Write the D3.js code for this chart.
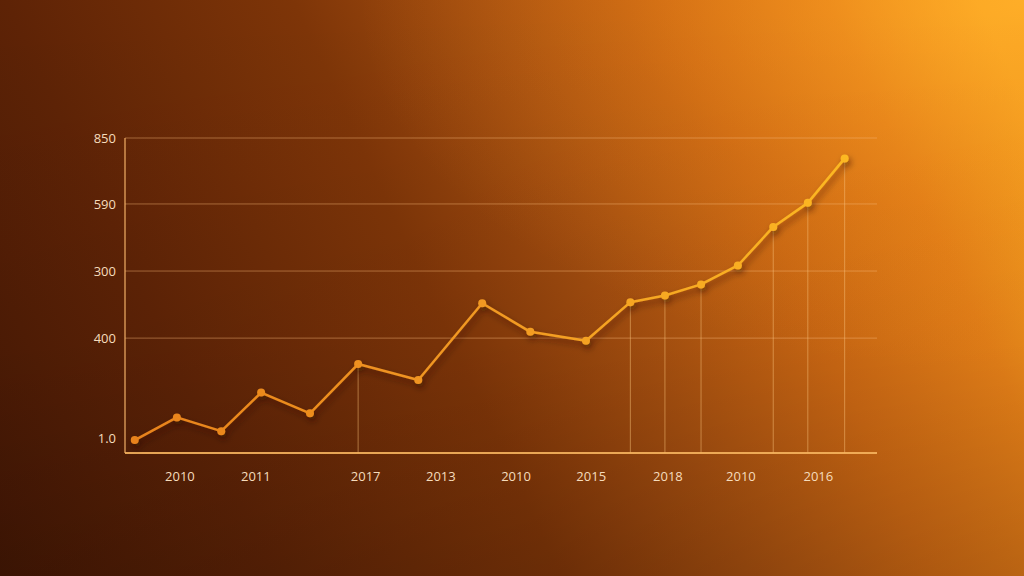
<!DOCTYPE html>
<html><head><meta charset="utf-8">
<script src="https://cdn.jsdelivr.net/npm/d3@7"></script>
<style>html,body{margin:0;padding:0;background:#4a1a04;}svg{display:block;}</style>
</head><body>
<svg id="chart" width="1024" height="576"></svg>
<script>
// ---- data ----
const pointX = [0.13, 0.69, 1.28, 1.81, 2.46, 3.10, 3.90, 4.75, 5.39, 6.13, 6.72, 7.18, 7.66, 8.15, 8.62, 9.08, 9.57];
const pointY = [35, 96, 59, 163, 107, 240, 197, 404, 327, 303, 407, 425, 455, 506, 610, 675, 795];
const dropLineIdx = [5, 10, 11, 12, 14, 15, 16];
const xTickPos = [0.73, 1.74, 3.20, 4.20, 5.20, 6.20, 7.22, 8.19, 9.22];
const xTickLabels = ["2010", "2011", "2017", "2013", "2010", "2015", "2018", "2010", "2016"];
const yGridVals = [850, 672, 491, 310];
const yTickVals = [850, 672, 491, 310, 40];
const yTickLabels = ["850", "590", "300", "400", "1.0"];

const W = 1024, H = 576;
const svg = d3.select("#chart");
const defs = svg.append("defs");

// background gradients
const bg = defs.append("linearGradient").attr("id","bg").attr("gradientUnits","userSpaceOnUse")
  .attr("x1",0).attr("y1",576).attr("x2",1024).attr("y2",100);
bg.append("stop").attr("offset","0%").attr("stop-color","#441704");
bg.append("stop").attr("offset","22%").attr("stop-color","#5e2306");
bg.append("stop").attr("offset","45%").attr("stop-color","#7e3508");
bg.append("stop").attr("offset","60%").attr("stop-color","#a44e0f");
bg.append("stop").attr("offset","75%").attr("stop-color","#cc6813");
bg.append("stop").attr("offset","88%").attr("stop-color","#e68018");
bg.append("stop").attr("offset","100%").attr("stop-color","#fca822");
svg.append("rect").attr("width",W).attr("height",H).attr("fill","url(#bg)");

const rg = defs.append("radialGradient").attr("id","glow")
  .attr("cx","1").attr("cy","0").attr("r","0.65").attr("gradientUnits","objectBoundingBox");
rg.append("stop").attr("offset","0%").attr("stop-color","#ffb02a").attr("stop-opacity",0.7);
rg.append("stop").attr("offset","60%").attr("stop-color","#f08a1a").attr("stop-opacity",0.22);
rg.append("stop").attr("offset","100%").attr("stop-color","#f08a1a").attr("stop-opacity",0);
svg.append("rect").attr("width",W).attr("height",H).attr("fill","url(#glow)");

const vg = defs.append("linearGradient").attr("id","vig").attr("x1","0").attr("y1","0").attr("x2","0").attr("y2","1");
vg.append("stop").attr("offset","0%").attr("stop-color","#000").attr("stop-opacity",0);
vg.append("stop").attr("offset","60%").attr("stop-color","#000").attr("stop-opacity",0.04);
vg.append("stop").attr("offset","100%").attr("stop-color","#000").attr("stop-opacity",0.15);
svg.append("rect").attr("width",W).attr("height",H).attr("fill","url(#vig)");

// scales
const x = d3.scaleLinear().domain([0, 10]).range([125, 877]);
const y = d3.scaleLinear().domain([0, 850]).range([453, 138]);

// line gradient
const lg = defs.append("linearGradient").attr("id","lineGrad").attr("gradientUnits","userSpaceOnUse")
  .attr("x1", x(0)).attr("y1",0).attr("x2", x(10)).attr("y2",0);
lg.append("stop").attr("offset","0%").attr("stop-color","#e8821c");
lg.append("stop").attr("offset","50%").attr("stop-color","#f29a22");
lg.append("stop").attr("offset","100%").attr("stop-color","#fdbb22");

const shadow = defs.append("filter").attr("id","shadow").attr("x","-10%").attr("y","-10%").attr("width","120%").attr("height","130%");
shadow.append("feDropShadow").attr("dx",2).attr("dy",4).attr("stdDeviation",3)
  .attr("flood-color","#2a0c00").attr("flood-opacity",0.55);

const textColor = "#f6dcbc";
const font = "'Open Sans', sans-serif";

// gridlines
svg.append("g").selectAll("line").data(yGridVals).join("line")
  .attr("x1", x(0)).attr("x2", x(10))
  .attr("y1", d => y(d)).attr("y2", d => y(d))
  .attr("stroke", "#f7b877").attr("stroke-opacity", 0.45).attr("stroke-width", 1);

// drop lines
svg.append("g").selectAll("line").data(dropLineIdx).join("line")
  .attr("x1", i => x(pointX[i])).attr("x2", i => x(pointX[i]))
  .attr("y1", i => y(pointY[i])).attr("y2", y(0))
  .attr("stroke", "#f9c27a").attr("stroke-opacity", 0.5).attr("stroke-width", 1);

// axes lines
svg.append("line").attr("x1", x(0)).attr("x2", x(0)).attr("y1", y(850)).attr("y2", y(0))
  .attr("stroke", "#f3b066").attr("stroke-opacity", 0.8).attr("stroke-width", 1.5);
svg.append("line").attr("x1", x(0)).attr("x2", x(10)).attr("y1", y(0)).attr("y2", y(0))
  .attr("stroke", "#f6b45e").attr("stroke-opacity", 0.9).attr("stroke-width", 2);

// y labels
svg.append("g").selectAll("text").data(yTickVals).join("text")
  .attr("x", 116).attr("y", d => y(d)).attr("dy", "0.35em")
  .attr("text-anchor", "end").attr("fill", textColor)
  .attr("font-family", font).attr("font-size", 13)
  .text((d, i) => yTickLabels[i]);

// x labels
svg.append("g").selectAll("text").data(xTickPos).join("text")
  .attr("x", d => x(d)).attr("y", 476).attr("dy", "0.35em")
  .attr("text-anchor", "middle").attr("fill", textColor)
  .attr("font-family", font).attr("font-size", 13)
  .text((d, i) => xTickLabels[i]);

// line
const pts = pointX.map((d, i) => [d, pointY[i]]);
const lineGen = d3.line().x(d => x(d[0])).y(d => y(d[1]));
const g = svg.append("g").attr("filter", "url(#shadow)");
g.append("path").datum(pts).attr("d", lineGen)
  .attr("fill", "none").attr("stroke", "url(#lineGrad)").attr("stroke-width", 2.5)
  .attr("stroke-linejoin", "round");
g.selectAll("circle").data(pts).join("circle")
  .attr("cx", d => x(d[0])).attr("cy", d => y(d[1])).attr("r", 4)
  .attr("fill", "url(#lineGrad)");
</script>
</body></html>
